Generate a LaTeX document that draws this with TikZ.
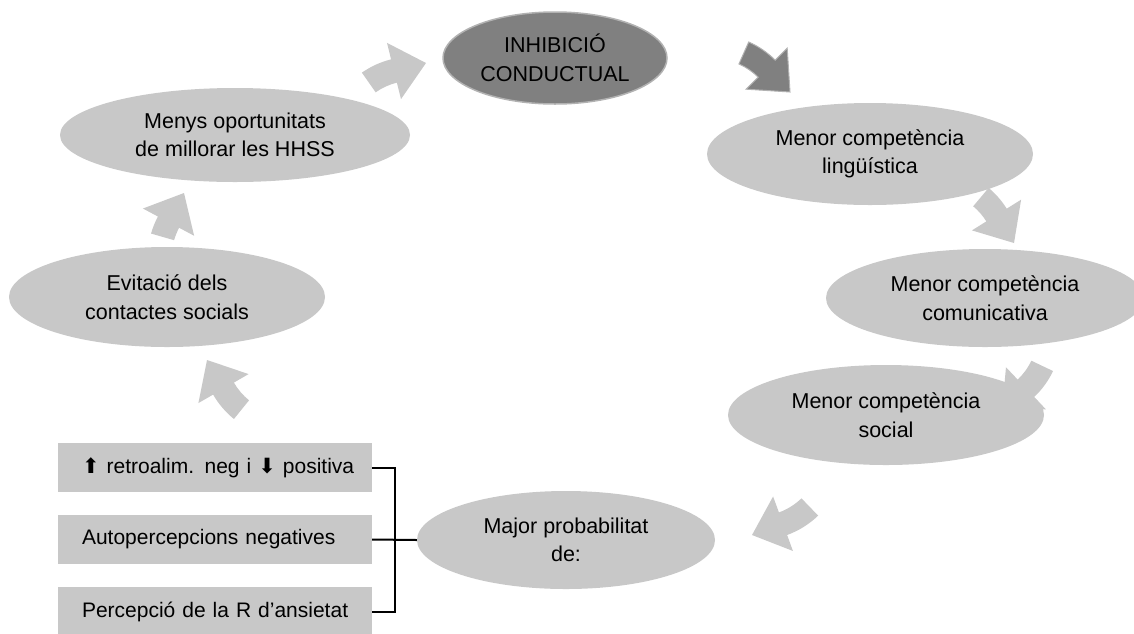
\documentclass[tikz,border=0pt]{standalone}
\usepackage{fontspec}
\setmainfont{Liberation Sans}
\newfontfamily\symfont{DejaVu Sans}
\usetikzlibrary{shapes.geometric}
\definecolor{lg}{RGB}{200,200,200}
\definecolor{dg}{RGB}{128,128,128}
\definecolor{dgb}{RGB}{178,178,178}
% curved block arrow: tip x, tip y, visual angle, body sweep, style
\newcommand\CycArrow[5]{%
  \begin{scope}[shift={(#1,#2)},rotate=#3]
    \filldraw[#5] (-33,-12) arc[start angle=-90,end angle={-90-#4},radius=88]
      -- ([shift={(-33,76)}]{-90-#4}:64)
      arc[start angle={-90-#4},end angle=-90,radius=64]
      -- (-33,29) -- (0,0) -- (-33,-29) -- cycle;
  \end{scope}}
\tikzset{
  txt/.style={font=\fontsize{21.5}{28.5}\selectfont, align=center, text=black},
  ell/.style={ellipse, fill=lg, inner sep=0pt, txt},
  darkell/.style={ellipse, fill=dg, draw=dgb, line width=1.5pt, inner sep=0pt, txt},
  boxn/.style={rectangle, fill=lg, minimum height=49, text width=290, inner xsep=12, inner ysep=0pt,
     align=left, font=\fontsize{21}{26}\selectfont, execute at begin node={\hspace*{12pt}}},
  arr/.style={fill=lg, draw=none},
  darr/.style={fill=dg, draw=dgb, line width=1pt},
  brk/.style={draw=black, line width=2pt},
}
\begin{document}
\begin{tikzpicture}[x=1pt,y=-1pt]
\useasboundingbox (0,0) rectangle (1134,633);
% ellipses
\node[darkell, minimum width=224, minimum height=92] (inh) at (555,58) {INHIBICIÓ\\CONDUCTUAL};
\node[ell, minimum width=350, minimum height=94] (men) at (235,135) {Menys oportunitats\\de millorar les HHSS};
\node[ell, minimum width=326, minimum height=102] (lin) at (870,154) {Menor competència\\lingüística};
\node[ell, minimum width=316, minimum height=100] (evi) at (167,297) {Evitació dels\\contactes socials};
\node[ell, minimum width=318, minimum height=98] (com) at (985,298) {Menor competència\\comunicativa};
\node[ell, minimum width=316, minimum height=100] (soc) at (886,415) {Menor competència\\social};
\node[ell, minimum width=298, minimum height=98] (maj) at (566,540) {Major probabilitat\\de:};
% boxes
\node[boxn] (b1) at (215,467.5) {{\symfont ⬆} retroalim. neg i {\symfont ⬇} positiva};
\node[boxn] (b2) at (215,539.5) {Autopercepcions negatives};
\node[boxn] (b3) at (215,611.5) {Percepció de la R d’ansietat};
% bracket
\coordinate (jt) at (395,467.5);
\coordinate (jb) at (395,611.5);
\draw[brk] (b1.east) -- (jt) -- (jb) -- (b3.east);
\draw[brk] (b2.east) -- (maj.west);
% cycle arrows
\CycArrow{426}{63}{14}{21}{arr}
\CycArrow{790}{92}{-45}{21}{darr}
\CycArrow{1014}{243}{-58}{18}{arr}
\CycArrow{1002}{411}{-136.5}{21}{arr}
\CycArrow{752}{535}{-160}{24}{arr}
\CycArrow{207}{360}{120}{21}{arr}
\CycArrow{184}{193}{62}{12}{arr}
\end{tikzpicture}
\end{document}
